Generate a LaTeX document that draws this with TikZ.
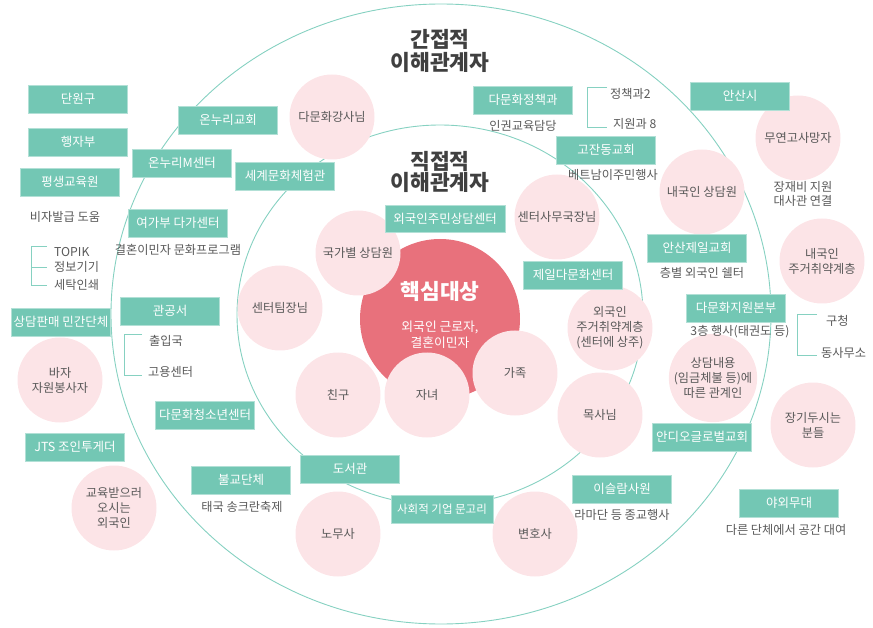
\documentclass[tikz,border=0pt]{standalone}
\usepackage{fontspec}
\setmainfont{Noto Sans CJK KR}
\usepackage{xcolor}
\usetikzlibrary{positioning}
\definecolor{grpfill}{HTML}{73C7B4}
\definecolor{ringline}{HTML}{86D1C1}
\definecolor{whofill}{HTML}{FCE4E7}
\definecolor{corefill}{HTML}{E8717C}
\definecolor{txtgray}{HTML}{595959}
\definecolor{titlegray}{HTML}{404040}

\begin{document}
\begin{tikzpicture}[x=1pt, y=-1pt,
    grp/.style={draw=grpfill!55!white, line width=0.6pt, fill=grpfill, text=white, minimum width=99pt, minimum height=28pt, inner sep=0pt, font=\fontsize{12.5}{14}\selectfont},
    who/.style={circle, fill=whofill, minimum size=85pt, inner sep=0pt, align=center, text=txtgray, font=\fontsize{12.2}{15}\selectfont},
    note/.style={text=txtgray, inner sep=1pt, align=center, font=\fontsize{12.2}{13.7}\selectfont},
    title/.style={text=titlegray, align=center, font=\fontsize{21.5}{23.5}\selectfont\bfseries},
    ring/.style={draw=ringline, line width=0.9pt},
    brk/.style={draw=ringline, line width=0.9pt}]
    \useasboundingbox (0, 0) rectangle (873, 628);
    \draw[ring] (441, 314) ellipse [x radius=330pt, y radius=310pt];
    \draw[ring] (440, 315) ellipse [x radius=203pt, y radius=190pt];
    \node[circle, fill=corefill, minimum size=160pt, inner sep=0pt] (core) at (440, 319) {};
    \node[text=white, font=\fontsize{21.5}{24}\selectfont\bfseries] (coretitle) at (440, 291) {핵심대상};
    \node[text=white, align=center, font=\fontsize{12.8}{16}\selectfont] (coretext) at (440, 335) {외국인 근로자,\\결혼이민자};
    \node[title] (indirect) at (440, 51) {간접적\\이해관계자};
    \node[title, font=\fontsize{21.5}{21}\selectfont\bfseries] (direct) at (440, 172) {직접적\\이해관계자};

    \node[who] (lecturer) at (332, 117) {다문화강사님};
    \node[who] (national) at (358, 253) {국가별 상담원};
    \node[who] (teamlead) at (280, 308) {센터팀장님};
    \node[who] (friend) at (338, 395) {친구};
    \node[who] (child) at (427, 395) {자녀};
    \node[who] (family) at (515, 373) {가족};
    \node[who] (director) at (557, 217) {센터사무국장님};
    \node[who] (housing) at (610, 328) {외국인\\주거취약계층\\(센터에 상주)};
    \node[who] (pastor) at (600, 415) {목사님};
    \node[who] (labor) at (338, 534) {노무사};
    \node[who] (lawyer) at (535, 534) {변호사};
    \node[who] (domestic) at (702, 192) {내국인 상담원};
    \node[who] (unclaimed) at (798, 138) {무연고사망자};
    \node[who] (dhousing) at (822, 261) {내국인\\주거취약계층};
    \node[who] (dispute) at (713, 378) {상담내용\\(임금체불 등)에\\따른 관계인};
    \node[who] (longstay) at (813, 425) {장기두시는\\분들};
    \node[who] (bazaar) at (60, 380) {바자\\자원봉사자};
    \node[who] (learner) at (114, 508) {교육받으러\\오시는\\외국인};

    \node[grp] (danwon) at (78, 99) {단원구};
    \node[grp] (haengja) at (78, 142) {행자부};
    \node[grp] (lifelong) at (70, 182) {평생교육원};
    \node[grp] (onnuri) at (228, 120) {온누리교회};
    \node[grp] (onnurim) at (182, 163) {온누리M센터};
    \node[grp] (worldhall) at (285, 176) {세계문화체험관};
    \node[grp] (dagacenter) at (178, 223) {여가부 다가센터};
    \node[grp] (civicsale) at (61, 322) {상담판매 민간단체};
    \node[grp] (office) at (170, 311) {관공서};
    \node[grp] (youth) at (205, 415) {다문화청소년센터};
    \node[grp] (jts) at (75, 447) {JTS 조인투게더};
    \node[grp] (buddhist) at (241, 480) {불교단체};
    \node[grp] (library) at (350, 469) {도서관};
    \node[grp, minimum width=102pt, font=\fontsize{11.5}{13}\selectfont] (mungori) at (442, 509) {사회적 기업 문고리};
    \node[grp, minimum width=120pt, minimum height=27pt] (residentcenter) at (445, 219) {외국인주민상담센터};
    \node[grp] (policy) at (523, 100) {다문화정책과};
    \node[grp] (gojan) at (606, 150) {고잔동교회};
    \node[grp] (jeilcenter) at (573, 275) {제일다문화센터};
    \node[grp] (ansan) at (740, 96) {안산시};
    \node[grp] (ansanjeil) at (697, 248) {안산제일교회};
    \node[grp] (supporthq) at (736, 308) {다문화지원본부};
    \node[grp] (antioch) at (702, 437) {안디오글로벌교회};
    \node[grp] (mosque) at (622, 489) {이슬람사원};
    \node[grp] (stage) at (789, 503) {야외무대};

    \node[note] (visa) at (65, 217) {비자발급 도움};
    \node[note, anchor=west] (topik) at (53, 252) {TOPIK};
    \node[note, anchor=west] (infodev) at (53, 267) {정보기기};
    \node[note, anchor=west] (laundry) at (53, 285) {세탁인쇄};
    \node[note] (culture) at (178, 250) {결혼이민자 문화프로그램};
    \node[note, anchor=west] (immig) at (148, 341) {출입국};
    \node[note, anchor=west] (employ) at (147, 372) {고용센터};
    \node[note] (songkran) at (242, 507) {태국 송크란축제};
    \node[note] (rights) at (523, 126) {인권교육담당};
    \node[note, anchor=west] (policy2) at (609, 94) {정책과2};
    \node[note, anchor=west] (support8) at (612, 124) {지원과 8};
    \node[note] (vietnam) at (613, 175) {베트남이주민행사};
    \node[note] (funeral) at (803, 194) {장재비 지원\\대사관 연결};
    \node[note] (shelter) at (702, 273) {층별 외국인 쉘터};
    \node[note] (taekwondo) at (740, 332) {3층 행사(태권도 등)};
    \node[note, anchor=west] (ward) at (825, 321) {구청};
    \node[note, anchor=west] (dongoffice) at (820, 353) {동사무소};
    \node[note] (ramadan) at (622, 515) {라마단 등 종교행사};
    \node[note] (rental) at (786, 530) {다른 단체에서 공간 대여};

    \draw[brk] ([xshift=-6pt]topik.north west) -- ++(-16, 0) |- ([xshift=-6pt]laundry.west);
    \draw[brk] ([xshift=-6pt]infodev.west) -- ++(-16, 0);
    \draw[brk] ([xshift=-6pt]immig.north west) -- ++(-18, 0) |- ([xshift=-5pt, yshift=-3pt]employ.west);
    \draw[brk] ([xshift=-2pt]policy2.north west) -- ++(-20, 0) |- ([xshift=-5pt, yshift=-3pt]support8.west);
    \draw[brk] ([xshift=-8pt]ward.north west) -- ++(-20, 0) |- ([xshift=-3pt, yshift=-2pt]dongoffice.west);
\end{tikzpicture}
\end{document}
